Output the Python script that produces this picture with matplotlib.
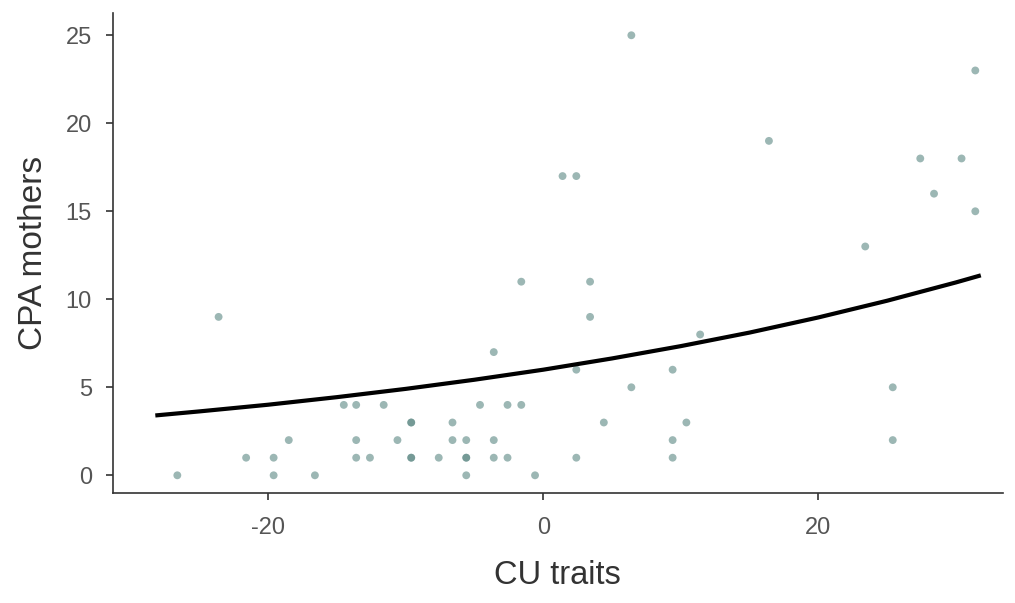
import matplotlib
matplotlib.use("Agg")
import matplotlib.pyplot as plt

# scatter data (CU traits vs CPA mothers)
cu = [-26.6, -23.6, -21.6, -19.6, -19.6, -18.5, -16.6, -14.5, -13.6, -13.6, -13.6, -12.6,
      -11.6, -10.6, -9.6, -9.6, -9.6, -9.6, -7.6, -6.6, -6.6, -5.6, -5.6, -5.6, -5.6,
      -4.6, -3.6, -3.6, -3.6, -2.6, -2.6, -1.6, -1.6, -0.6, 1.4, 2.4, 2.4, 2.4, 3.4, 3.4,
      4.4, 6.4, 6.4, 9.4, 9.4, 9.4, 10.4, 11.4, 16.4, 23.4, 25.4, 25.4, 27.4, 28.4, 30.4,
      31.4, 31.4]
cpa = [0, 9, 1, 1, 0, 2, 0, 4, 4, 2, 1, 1,
       4, 2, 3, 3, 1, 1, 1, 3, 2, 2, 1, 1, 0,
       4, 7, 2, 1, 4, 1, 4, 11, 0, 17, 17, 1, 6, 11, 9,
       3, 25, 5, 6, 2, 1, 3, 8, 19, 13, 5, 2, 18, 16, 18,
       23, 15]

# fitted curve
curve_x = [-28.2, -25, -20, -15, -10, -5, 0, 5, 10, 15, 20, 25, 30, 31.8]
curve_y = [3.40, 3.63, 4.01, 4.44, 4.91, 5.43, 6.00, 6.64, 7.34, 8.11, 8.97, 9.92, 10.96, 11.36]

x_ticks = [-20, 0, 20]
y_ticks = [0, 5, 10, 15, 20, 25]

plt.rcParams['font.family'] = ['Liberation Sans', 'DejaVu Sans']

fig = plt.figure(figsize=(10.15, 6.03), dpi=100)
ax = fig.add_axes([0.111, 0.182, 0.877, 0.796])

ax.scatter(cu, cpa, s=32, color='#5b8783', alpha=0.6, edgecolors='none', zorder=2)
ax.plot(curve_x, curve_y, color='black', lw=3, solid_capstyle='butt', zorder=3)

ax.set_xlim(-31.3, 33.4)
ax.set_ylim(-1.02, 26.25)
ax.set_xticks(x_ticks)
ax.set_yticks(y_ticks)
ax.set_xticklabels([str(v) for v in x_ticks])
ax.set_yticklabels([str(v) for v in y_ticks])

for s in ['top', 'right']:
    ax.spines[s].set_visible(False)
for s in ['left', 'bottom']:
    ax.spines[s].set_color('#333333')
    ax.spines[s].set_linewidth(1.2)

ax.tick_params(axis='both', colors='#333333', length=5, width=1.2,
               labelsize=17, labelcolor='#555555')
ax.tick_params(axis='x', pad=12)
ax.tick_params(axis='y', pad=10)

ax.set_xlabel('CU traits', fontsize=23.5, color='#333333', labelpad=15)
ax.set_ylabel('CPA mothers', fontsize=24, color='#333333', labelpad=12)

fig.savefig('out.png', dpi=100, facecolor='white')
